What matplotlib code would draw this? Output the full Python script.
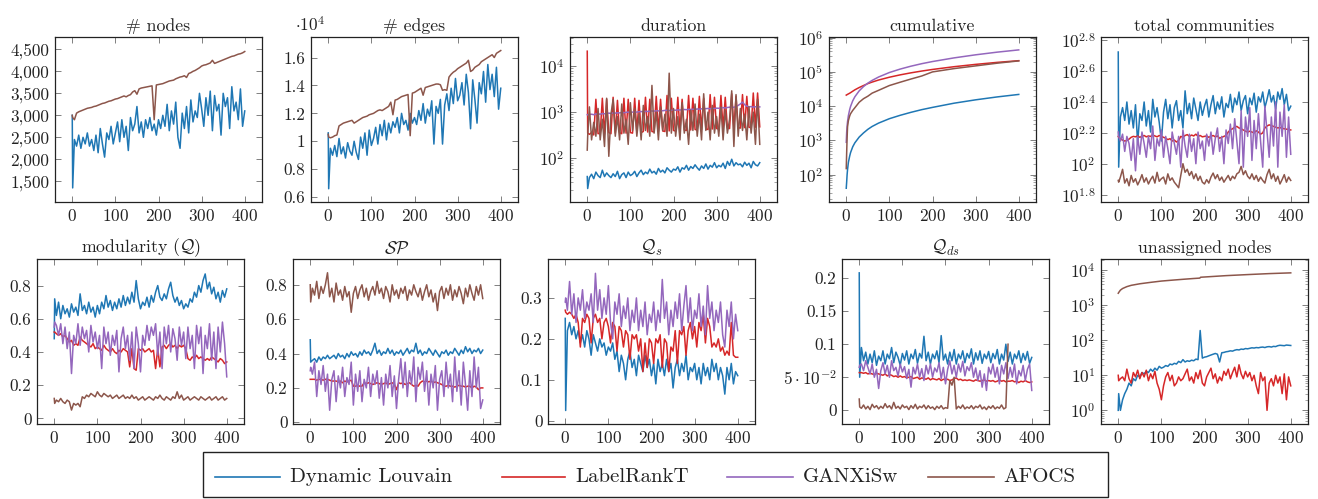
import numpy as np
import matplotlib
matplotlib.use('Agg')
import matplotlib.pyplot as plt
from matplotlib.ticker import FixedLocator, FuncFormatter, LogLocator, NullLocator, NullFormatter
from matplotlib.lines import Line2D
from matplotlib.patches import Rectangle

plt.rcParams.update({
    'font.family': 'serif', 'font.serif': ['cmr10'], 'mathtext.fontset': 'cm',
    'axes.formatter.use_mathtext': True, 'axes.unicode_minus': False,
})

# ---------------- data ----------------
X = [0, 1] + list(range(5, 401, 5))
labels = ['Dynamic Louvain', 'LabelRankT', 'GANXiSw', 'AFOCS']
colors = ['#1f77b4', '#d62728', '#9467bd', '#8c564b']

nodes_dl = [3000, 1350,
    2450, 2300, 2550, 2250, 2500, 2350, 2600, 2300, 2450, 2200,
    2550, 2150, 2700, 2350, 2050, 2600, 2450, 2750, 2350, 2600,
    2850, 2400, 2900, 2500, 2750, 2200, 2950, 2650, 2800, 3200,
    2600, 2850, 2500, 2900, 2700, 2950, 2650, 2800, 2550, 2900,
    2700, 3000, 2750, 3250, 2650, 3100, 2800, 3300, 2500, 2250,
    3050, 2700, 3200, 2600, 3350, 2850, 3100, 2950, 3500, 3150,
    2750, 3400, 3000, 3550, 2650, 3450, 3100, 3250, 2550, 3500,
    3200, 3400, 2700, 3650, 3100, 3300, 2900, 3600, 2750, 3100]
nodes_af = [3000, 2950,
    2900, 3050, 3080, 3100, 3120, 3140, 3160, 3170, 3180, 3200,
    3210, 3230, 3250, 3270, 3280, 3300, 3320, 3330, 3350, 3370,
    3380, 3400, 3420, 3440, 3420, 3450, 3470, 3530, 3560, 3480,
    3600, 3620, 3630, 3640, 3650, 3660, 3670, 2900, 3690, 3700,
    3710, 3720, 3740, 3760, 3780, 3790, 3800, 3830, 3850, 3870,
    3880, 3900, 3860, 3950, 3970, 4000, 4020, 4050, 4080, 4120,
    4140, 4150, 4170, 4190, 4250, 4180, 4200, 4220, 4240, 4260,
    4280, 4300, 4320, 4340, 4350, 4370, 4390, 4400, 4420, 4450]

edges_dl = [10600, 6600,
    9500, 9000, 9700, 8900, 10200, 9100, 9600, 8800, 9900, 9300,
    9000, 10000, 9200, 8700, 10300, 9500, 10600, 9000, 10800, 9700,
    10200, 11000, 9800, 11200, 10400, 11500, 10100, 11300, 10600, 11400,
    11000, 11700, 10600, 12000, 11200, 11500, 10800, 12000, 11300, 11700,
    11200, 12200, 11500, 12700, 11300, 12300, 11800, 12900, 9800, 12500,
    12000, 13000, 9800, 12600, 13400, 12200, 13800, 12700, 14500, 12900,
    13300, 14200, 12600, 14800, 13500, 10900, 14400, 13000, 11300, 14200,
    13400, 15000, 12800, 15500, 13700, 14800, 13200, 15300, 12300, 13800]
edges_af = [10500, 10300,
    10250, 10300, 10400, 10450, 11100, 11200, 11300, 11350, 11400, 11450,
    11500, 11300, 11400, 11500, 11600, 11700, 11750, 11800, 11900, 11950,
    12000, 12100, 12200, 12250, 12200, 12300, 12400, 12500, 12800, 11900,
    12950, 13000, 13100, 13200, 13250, 13300, 13350, 10400, 13450, 13500,
    13600, 13700, 13800, 13300, 13850, 13900, 13950, 14000, 14050, 14100,
    14100, 14050, 13650, 13700, 13650, 14600, 14800, 14950, 15050, 15200,
    15300, 15400, 15500, 15600, 15800, 15000, 15100, 15300, 15400, 15500,
    15700, 15800, 15900, 16000, 16100, 16200, 16000, 16300, 16400, 16500]

dur_dl = [40, 22,
    38, 45, 36, 50, 42, 38, 55, 40, 48, 42,
    38, 46, 40, 52, 36, 44, 48, 38, 50, 42,
    45, 52, 40, 48, 55, 44, 50, 46, 58, 48,
    52, 45, 60, 50, 55, 48, 62, 55, 50, 58,
    55, 65, 50, 62, 58, 70, 55, 66, 60, 72,
    62, 55, 68, 60, 75, 58, 70, 64, 80, 62,
    70, 65, 78, 60, 85, 70, 95, 68, 80, 72,
    75, 65, 82, 70, 78, 62, 85, 72, 68, 80]
dur_lr = [21000, 350,
    330, 360, 320, 1900, 340, 350, 2000, 330, 1900, 360,
    340, 2100, 350, 1800, 360, 340, 2000, 350, 1900, 360,
    350, 2000, 370, 1800, 360, 380, 2100, 370, 1900, 380,
    370, 2200, 380, 1900, 390, 380, 2300, 390, 2000, 400,
    390, 2100, 400, 1900, 410, 400, 2300, 410, 2000, 420,
    410, 2200, 420, 2000, 430, 420, 2400, 430, 2100, 440,
    430, 2300, 440, 2100, 450, 440, 2500, 450, 2200, 460,
    450, 2400, 460, 2200, 470, 460, 2600, 470, 2600, 480]
dur_gx = [880, 870,
    890, 900, 880, 910, 920, 900, 930, 920, 940, 950,
    940, 960, 950, 970, 960, 980, 970, 990, 1000, 990,
    1000, 1010, 1000, 1020, 1030, 1020, 1040, 1030, 1050, 1060,
    1050, 1070, 1060, 1080, 1070, 1090, 1100, 1080, 1100, 1110,
    1100, 1120, 1110, 1130, 1140, 1130, 1150, 1140, 1160, 1150,
    1170, 1160, 1180, 1170, 1190, 1200, 1180, 1210, 1200, 1220,
    1210, 1230, 1250, 1230, 1260, 1280, 1300, 1270, 1320, 1400,
    1500, 1650, 1450, 1350, 1300, 1320, 1280, 1310, 1290, 1300]
dur_af = [150, 300,
    1300, 250, 600, 300, 1200, 250, 700, 180, 2000, 110,
    900, 1900, 300, 800, 250, 1500, 350, 700, 200, 1600,
    400, 1200, 300, 900, 250, 1400, 400, 800, 300, 3800,
    350, 1000, 250, 1300, 400, 900, 300, 7000, 350, 1200,
    300, 800, 250, 1600, 350, 700, 200, 1100, 400, 1500,
    300, 900, 250, 2500, 400, 1000, 250, 1400, 350, 800,
    300, 1300, 250, 1100, 350, 700, 2900, 180, 2400, 300,
    1200, 400, 900, 250, 1300, 350, 1000, 200, 1900, 200]

cum_x = [0, 1, 2, 3, 5, 8, 10, 15, 20, 30, 40, 50, 60, 75, 100, 125, 150, 175, 200, 250, 300, 350, 400]
cum_dl = [40, 62, 100, 140, 230, 350, 440, 650, 850, 1250, 1650, 2100, 2550, 3200, 4300, 5400,
          6600, 7900, 9200, 12200, 15300, 18600, 22000]
cum_lr = [21000, 21400, 21700, 22100, 22800, 23900, 24800, 27300, 30000, 35000, 40000, 45500,
          50500, 58000, 70000, 82000, 94000, 106000, 118000, 142000, 166000, 190000, 213000]
cum_gx = [880, 1750, 2650, 3550, 5300, 8000, 9800, 14300, 18800, 28000, 37300, 47000, 56500,
          71000, 96000, 121000, 147000, 174000, 201000, 257000, 316000, 378000, 440000]
cum_af = [150, 450, 1200, 2500, 3800, 5200, 6000, 7500, 9000, 13000, 16500, 19500, 24000, 29000,
          40000, 50000, 62000, 76000, 100000, 125000, 150000, 180000, 210000]

com_dl = [525, 95,
    200, 230, 190, 250, 180, 220, 170, 240, 135, 210,
    190, 250, 175, 220, 160, 260, 200, 230, 185, 140,
    215, 260, 195, 240, 170, 230, 255, 190, 220, 170,
    295, 210, 245, 195, 265, 225, 190, 250, 205, 235,
    260, 200, 240, 275, 210, 250, 225, 270, 200, 245,
    230, 280, 215, 265, 240, 290, 220, 255, 275, 210,
    265, 240, 285, 215, 270, 250, 290, 230, 260, 300,
    250, 275, 225, 290, 260, 305, 240, 280, 220, 235]
com_lr = [150, 148,
    145, 142, 140, 141, 144, 148, 150, 149, 151, 148,
    150, 152, 149, 151, 150, 153, 151, 149, 152, 150,
    148, 146, 143, 145, 140, 142, 138, 141, 150, 148,
    152, 154, 150, 153, 151, 155, 150, 152, 149, 150,
    151, 148, 150, 152, 149, 151, 146, 148, 150, 152,
    160, 165, 168, 172, 174, 170, 168, 165, 162, 160,
    162, 160, 158, 163, 160, 155, 158, 170, 175, 178,
    176, 174, 172, 170, 171, 169, 168, 167, 166, 165]
com_gx = [160, 150,
    140, 155, 120, 150, 135, 105, 145, 90, 150, 115,
    160, 135, 110, 150, 125, 175, 105, 145, 130, 165,
    110, 150, 125, 100, 160, 135, 115, 150, 95, 165,
    130, 110, 155, 120, 145, 100, 160, 125, 140, 105,
    155, 130, 160, 115, 145, 170, 120, 150, 100, 165,
    135, 180, 125, 195, 140, 100, 220, 95, 200, 150,
    230, 105, 190, 125, 210, 140, 95, 235, 160, 110,
    200, 130, 250, 95, 215, 150, 240, 110, 200, 115]
com_af = [78, 76,
    82, 92, 75, 80, 72, 84, 76, 80, 73, 78,
    85, 76, 81, 74, 79, 83, 75, 88, 77, 80,
    82, 74, 86, 78, 81, 76, 73, 70, 84, 100,
    88, 92, 84, 89, 80, 86, 78, 83, 76, 74,
    79, 75, 82, 87, 80, 85, 78, 82, 76, 80,
    84, 78, 83, 80, 86, 88, 96, 85, 90, 83,
    80, 86, 79, 84, 77, 82, 78, 75, 85, 92,
    80, 86, 77, 83, 74, 79, 85, 76, 82, 78]

mod_dl = [0.48, 0.72,
    0.62, 0.70, 0.60, 0.68, 0.63, 0.66, 0.61, 0.69, 0.64, 0.67,
    0.62, 0.75, 0.65, 0.68, 0.63, 0.70, 0.64, 0.67, 0.61, 0.68,
    0.63, 0.70, 0.66, 0.74, 0.67, 0.71, 0.65, 0.70, 0.66, 0.72,
    0.67, 0.74, 0.68, 0.73, 0.69, 0.76, 0.70, 0.83, 0.72, 0.66,
    0.70, 0.68, 0.73, 0.67, 0.74, 0.70, 0.76, 0.80, 0.73, 0.71,
    0.75, 0.72, 0.78, 0.82, 0.74, 0.70, 0.73, 0.68, 0.71, 0.66,
    0.69, 0.67, 0.72, 0.70, 0.76, 0.73, 0.80, 0.76, 0.83, 0.87,
    0.78, 0.82, 0.75, 0.79, 0.72, 0.76, 0.70, 0.77, 0.73, 0.78]
mod_lr = [0.52, 0.52,
    0.51, 0.50, 0.51, 0.49, 0.50, 0.48, 0.46, 0.47, 0.44, 0.45,
    0.44, 0.49, 0.47, 0.46, 0.45, 0.44, 0.43, 0.45, 0.42, 0.43,
    0.42, 0.41, 0.44, 0.42, 0.41, 0.40, 0.42, 0.40, 0.39, 0.41,
    0.40, 0.42, 0.41, 0.40, 0.31, 0.42, 0.30, 0.29, 0.42, 0.41,
    0.42, 0.40, 0.41, 0.42, 0.40, 0.41, 0.30, 0.42, 0.31, 0.43,
    0.44, 0.42, 0.44, 0.45, 0.43, 0.44, 0.42, 0.44, 0.43, 0.44,
    0.42, 0.36, 0.35, 0.37, 0.36, 0.38, 0.36, 0.37, 0.36, 0.35,
    0.36, 0.35, 0.37, 0.36, 0.35, 0.34, 0.36, 0.35, 0.33, 0.34]
mod_gx = [0.55, 0.58,
    0.56, 0.50, 0.57, 0.45, 0.55, 0.42, 0.52, 0.27, 0.50, 0.45,
    0.57, 0.44, 0.55, 0.48, 0.53, 0.40, 0.56, 0.46, 0.52, 0.42,
    0.50, 0.30, 0.55, 0.45, 0.52, 0.38, 0.50, 0.44, 0.53, 0.28,
    0.48, 0.55, 0.42, 0.50, 0.35, 0.52, 0.30, 0.55, 0.45, 0.28,
    0.50, 0.44, 0.56, 0.47, 0.55, 0.50, 0.57, 0.38, 0.52, 0.30,
    0.55, 0.45, 0.56, 0.40, 0.54, 0.48, 0.35, 0.55, 0.44, 0.52,
    0.36, 0.55, 0.42, 0.50, 0.30, 0.56, 0.45, 0.55, 0.27, 0.50,
    0.42, 0.57, 0.35, 0.52, 0.30, 0.55, 0.40, 0.58, 0.45, 0.25]
mod_af = [0.12, 0.09,
    0.11, 0.10, 0.12, 0.10, 0.09, 0.11, 0.10, 0.05, 0.09, 0.08,
    0.09, 0.07, 0.13, 0.12, 0.14, 0.13, 0.15, 0.14, 0.13, 0.16,
    0.14, 0.13, 0.15, 0.14, 0.13, 0.14, 0.12, 0.13, 0.14, 0.12,
    0.13, 0.14, 0.12, 0.13, 0.12, 0.14, 0.12, 0.13, 0.11, 0.12,
    0.13, 0.11, 0.12, 0.13, 0.12, 0.11, 0.13, 0.12, 0.14, 0.12,
    0.11, 0.13, 0.12, 0.11, 0.13, 0.12, 0.16, 0.12, 0.14, 0.11,
    0.12, 0.13, 0.11, 0.12, 0.13, 0.12, 0.11, 0.13, 0.12, 0.11,
    0.12, 0.13, 0.11, 0.12, 0.13, 0.11, 0.12, 0.13, 0.11, 0.12]

sp_dl = [0.48, 0.35,
    0.36, 0.37, 0.35, 0.38, 0.36, 0.38, 0.37, 0.39, 0.37, 0.38,
    0.39, 0.37, 0.40, 0.38, 0.39, 0.37, 0.40, 0.38, 0.41, 0.39,
    0.40, 0.38, 0.41, 0.39, 0.42, 0.40, 0.41, 0.39, 0.42, 0.46,
    0.40, 0.42, 0.39, 0.41, 0.40, 0.43, 0.40, 0.42, 0.39, 0.41,
    0.40, 0.42, 0.39, 0.41, 0.43, 0.40, 0.42, 0.41, 0.46, 0.40,
    0.42, 0.39, 0.41, 0.40, 0.43, 0.41, 0.39, 0.42, 0.40, 0.38,
    0.41, 0.40, 0.42, 0.39, 0.41, 0.40, 0.43, 0.41, 0.39, 0.42,
    0.40, 0.44, 0.41, 0.43, 0.40, 0.42, 0.41, 0.43, 0.40, 0.42]
sp_lr = [0.25, 0.25,
    0.25, 0.25, 0.245, 0.25, 0.25, 0.245, 0.25, 0.25, 0.245, 0.24,
    0.24, 0.24, 0.235, 0.24, 0.23, 0.24, 0.235, 0.24, 0.245, 0.21,
    0.21, 0.215, 0.21, 0.21, 0.23, 0.225, 0.23, 0.225, 0.22, 0.225,
    0.23, 0.225, 0.22, 0.225, 0.23, 0.22, 0.225, 0.23, 0.22, 0.19,
    0.23, 0.225, 0.23, 0.22, 0.225, 0.23, 0.22, 0.21, 0.215, 0.21,
    0.23, 0.24, 0.235, 0.24, 0.235, 0.24, 0.23, 0.235, 0.23, 0.225,
    0.22, 0.21, 0.21, 0.215, 0.21, 0.21, 0.205, 0.21, 0.215, 0.21,
    0.21, 0.205, 0.21, 0.21, 0.20, 0.21, 0.205, 0.19, 0.20, 0.20]
sp_gx = [0.30, 0.32,
    0.28, 0.35, 0.15, 0.30, 0.22, 0.33, 0.18, 0.28, 0.07, 0.25,
    0.30, 0.12, 0.27, 0.20, 0.32, 0.15, 0.26, 0.22, 0.35, 0.10,
    0.28, 0.18, 0.30, 0.12, 0.25, 0.20, 0.32, 0.15, 0.28, 0.22,
    0.30, 0.14, 0.26, 0.10, 0.28, 0.20, 0.33, 0.15, 0.27, 0.08,
    0.25, 0.37, 0.20, 0.35, 0.15, 0.30, 0.22, 0.38, 0.12, 0.32,
    0.25, 0.35, 0.18, 0.30, 0.10, 0.28, 0.20, 0.33, 0.07, 0.25,
    0.30, 0.15, 0.35, 0.20, 0.28, 0.12, 0.38, 0.18, 0.30, 0.10,
    0.35, 0.22, 0.07, 0.30, 0.15, 0.38, 0.20, 0.32, 0.08, 0.13]
sp_af = [0.80, 0.70,
    0.78, 0.74, 0.82, 0.72, 0.79, 0.75, 0.80, 0.87, 0.73, 0.78,
    0.70, 0.81, 0.74, 0.77, 0.71, 0.79, 0.73, 0.76, 0.64, 0.75,
    0.79, 0.72, 0.77, 0.80, 0.73, 0.78, 0.71, 0.76, 0.79, 0.74,
    0.82, 0.75, 0.78, 0.72, 0.79, 0.76, 0.70, 0.80, 0.74, 0.77,
    0.72, 0.78, 0.75, 0.79, 0.71, 0.77, 0.74, 0.80, 0.76, 0.73,
    0.78, 0.71, 0.76, 0.80, 0.73, 0.77, 0.70, 0.75, 0.65, 0.76,
    0.79, 0.72, 0.78, 0.74, 0.80, 0.71, 0.77, 0.73, 0.79, 0.75,
    0.69, 0.78, 0.73, 0.80, 0.75, 0.71, 0.79, 0.74, 0.80, 0.72]

qs_dl = [0.25, 0.025,
    0.22, 0.24, 0.21, 0.23, 0.20, 0.22, 0.19, 0.21, 0.18, 0.22,
    0.20, 0.16, 0.21, 0.19, 0.17, 0.20, 0.18, 0.19, 0.16, 0.18,
    0.17, 0.19, 0.15, 0.17, 0.12, 0.16, 0.14, 0.10, 0.15, 0.17,
    0.13, 0.15, 0.11, 0.16, 0.14, 0.12, 0.16, 0.13, 0.15, 0.11,
    0.14, 0.09, 0.15, 0.12, 0.14, 0.11, 0.15, 0.12, 0.14, 0.08,
    0.13, 0.15, 0.11, 0.14, 0.12, 0.16, 0.10, 0.13, 0.12, 0.14,
    0.10, 0.13, 0.09, 0.14, 0.11, 0.13, 0.10, 0.15, 0.12, 0.14,
    0.10, 0.13, 0.11, 0.065, 0.13, 0.10, 0.14, 0.09, 0.12, 0.11]
qs_lr = [0.27, 0.265,
    0.26, 0.265, 0.26, 0.25, 0.26, 0.24, 0.18, 0.25, 0.24, 0.26,
    0.25, 0.19, 0.25, 0.26, 0.24, 0.25, 0.20, 0.24, 0.25, 0.23,
    0.19, 0.24, 0.23, 0.17, 0.23, 0.22, 0.18, 0.22, 0.21, 0.15,
    0.21, 0.20, 0.21, 0.17, 0.20, 0.12, 0.19, 0.13, 0.20, 0.19,
    0.14, 0.20, 0.19, 0.21, 0.13, 0.20, 0.19, 0.12, 0.18, 0.17,
    0.22, 0.14, 0.22, 0.21, 0.23, 0.16, 0.22, 0.24, 0.20, 0.23,
    0.18, 0.24, 0.22, 0.26, 0.19, 0.25, 0.23, 0.18, 0.19, 0.18,
    0.20, 0.17, 0.18, 0.16, 0.17, 0.16, 0.24, 0.16, 0.155, 0.155]
qs_gx = [0.29, 0.30,
    0.27, 0.34, 0.26, 0.31, 0.24, 0.30, 0.27, 0.32, 0.25, 0.29,
    0.27, 0.31, 0.24, 0.36, 0.27, 0.32, 0.25, 0.30, 0.26, 0.33,
    0.24, 0.20, 0.29, 0.26, 0.31, 0.23, 0.28, 0.25, 0.30, 0.22,
    0.27, 0.24, 0.30, 0.22, 0.27, 0.23, 0.29, 0.21, 0.26, 0.24,
    0.29, 0.22, 0.27, 0.24, 0.345, 0.25, 0.29, 0.21, 0.27, 0.23,
    0.29, 0.25, 0.31, 0.22, 0.28, 0.33, 0.24, 0.30, 0.22, 0.27,
    0.25, 0.31, 0.23, 0.28, 0.21, 0.33, 0.25, 0.29, 0.22, 0.27,
    0.24, 0.29, 0.21, 0.18, 0.27, 0.23, 0.29, 0.20, 0.26, 0.22]

qds_dl = [0.208, 0.05,
    0.095, 0.075, 0.088, 0.070, 0.085, 0.072, 0.090, 0.068, 0.082, 0.075,
    0.090, 0.070, 0.085, 0.078, 0.095, 0.072, 0.088, 0.080, 0.068, 0.086,
    0.076, 0.090, 0.070, 0.085, 0.078, 0.092, 0.071, 0.086, 0.079, 0.112,
    0.075, 0.088, 0.070, 0.085, 0.078, 0.090, 0.072, 0.113, 0.076, 0.085,
    0.070, 0.088, 0.075, 0.092, 0.070, 0.085, 0.078, 0.090, 0.072, 0.086,
    0.079, 0.093, 0.070, 0.087, 0.076, 0.090, 0.071, 0.085, 0.078, 0.089,
    0.072, 0.086, 0.078, 0.092, 0.070, 0.085, 0.076, 0.100, 0.074, 0.088,
    0.070, 0.085, 0.078, 0.090, 0.072, 0.086, 0.076, 0.089, 0.071, 0.080]
qds_lr = [0.057, 0.057,
    0.057, 0.056, 0.057, 0.055, 0.056, 0.055, 0.054, 0.056, 0.055, 0.054,
    0.053, 0.055, 0.052, 0.054, 0.053, 0.051, 0.052, 0.050, 0.052, 0.050,
    0.051, 0.049, 0.050, 0.051, 0.048, 0.049, 0.050, 0.047, 0.049, 0.048,
    0.047, 0.049, 0.046, 0.048, 0.047, 0.046, 0.048, 0.045, 0.047, 0.046,
    0.047, 0.045, 0.046, 0.048, 0.049, 0.046, 0.047, 0.045, 0.046, 0.045,
    0.046, 0.045, 0.044, 0.046, 0.045, 0.044, 0.045, 0.046, 0.044, 0.045,
    0.044, 0.045, 0.043, 0.044, 0.046, 0.044, 0.045, 0.043, 0.044, 0.044,
    0.045, 0.043, 0.044, 0.042, 0.044, 0.043, 0.045, 0.043, 0.042, 0.043]
qds_gx = [0.065, 0.068,
    0.070, 0.060, 0.075, 0.065, 0.055, 0.070, 0.050, 0.062, 0.033, 0.060,
    0.072, 0.055, 0.068, 0.050, 0.075, 0.060, 0.065, 0.052, 0.070, 0.058,
    0.066, 0.048, 0.062, 0.035, 0.065, 0.055, 0.070, 0.050, 0.063, 0.045,
    0.068, 0.055, 0.070, 0.050, 0.064, 0.058, 0.072, 0.048, 0.065, 0.040,
    0.062, 0.075, 0.055, 0.068, 0.050, 0.070, 0.058, 0.074, 0.052, 0.066,
    0.060, 0.072, 0.050, 0.064, 0.045, 0.060, 0.035, 0.055, 0.030, 0.065,
    0.055, 0.070, 0.050, 0.065, 0.040, 0.068, 0.055, 0.072, 0.048, 0.065,
    0.050, 0.070, 0.040, 0.060, 0.052, 0.068, 0.045, 0.062, 0.070, 0.030]
qds_af = [0.017, 0.005,
    0.003, 0.008, 0.002, 0.006, 0.001, 0.009, 0.004, 0.007, 0.002, 0.006,
    0.003, 0.010, 0.004, 0.007, 0.002, 0.012, 0.003, 0.006, 0.002, 0.008,
    0.004, 0.006, 0.001, 0.007, 0.003, 0.009, 0.002, 0.006, 0.004, 0.008,
    0.002, 0.007, 0.003, 0.005, 0.001, 0.006, 0.003, 0.007, 0.002, 0.004,
    0.003, 0.045, 0.038, 0.050, 0.002, 0.006, 0.003, 0.008, 0.002, 0.005,
    0.003, 0.007, 0.002, 0.006, 0.004, 0.008, 0.002, 0.005, 0.001, 0.006,
    0.003, 0.007, 0.002, 0.005, 0.003, 0.008, 0.002, 0.004, 0.100]

una_af_x = [0, 2, 5, 10, 20, 30, 50, 75, 100, 125, 150, 175, 189, 191, 200, 250, 300, 350, 400]
una_af = [2200, 2400, 2700, 3000, 3400, 3700, 4100, 4500, 4900, 5200, 5500, 5800, 5950, 6300,
          6400, 7000, 7500, 8000, 8400]
una_dl = [1, 3,
    1, 2, 3, 4, 6, 5, 8, 7, 10, 9,
    12, 11, 13, 12, 15, 13, 16, 14, 18, 16,
    17, 19, 18, 21, 20, 22, 21, 25, 23, 28,
    24, 26, 25, 27, 26, 29, 28, 190, 31, 33,
    34, 36, 38, 40, 42, 40, 24, 44, 45, 47,
    48, 50, 49, 52, 54, 53, 56, 55, 58, 57,
    59, 61, 60, 62, 61, 63, 64, 62, 65, 66,
    64, 67, 66, 70, 72, 71, 70, 73, 72, 71]
una_lr = [10, 7,
    8, 9, 7, 15, 8, 6, 12, 9, 14, 8,
    12, 9, 14, 7, 11, 8, 13, 6, 4, 2,
    5, 9, 12, 7, 10, 5, 6, 9, 7, 8,
    11, 15, 7, 9, 6, 12, 8, 14, 6, 5,
    9, 12, 16, 8, 11, 6, 9, 7, 13, 10,
    15, 8, 12, 17, 9, 20, 11, 8, 13, 9,
    12, 7, 10, 5, 3, 12, 7, 9, 1, 6,
    8, 5, 10, 6, 9, 3, 11, 2, 9, 5]

# ---------------- layout ----------------
W, H = 1318, 499
fig = plt.figure(figsize=(W / 100, H / 100), dpi=100)

def add_ax(l, t, w=207, h=165):
    return fig.add_axes([l / W, (H - t - h) / H, w / W, h / H])

LW = 1.1
FS = 12.3
TXT = '#222222'

def style(ax, title):
    ax.set_xlim(-40, 440)
    ax.xaxis.set_major_locator(FixedLocator([0, 100, 200, 300, 400]))
    ax.xaxis.set_minor_locator(NullLocator())
    ax.tick_params(which='both', direction='in', top=True, right=True, color='0.5',
                   labelsize=FS, labelcolor=TXT)
    ax.tick_params(which='major', length=4, width=0.7, pad=4)
    ax.tick_params(which='minor', length=2, width=0.5)
    for s in ax.spines.values():
        s.set_linewidth(0.9)
        s.set_color(TXT)
    ax.set_title(title, fontsize=FS + 0.5, pad=4, color=TXT)

def plot_series(ax, xs, ys, cidx):
    ax.plot(xs, ys, color=colors[cidx], lw=LW)

# 1: nodes
ax = add_ax(55, 37)
plot_series(ax, X, nodes_dl, 0)
plot_series(ax, X, nodes_af, 3)
ax.set_ylim(1030, 4780)
ax.yaxis.set_major_locator(FixedLocator([1500, 2000, 2500, 3000, 3500, 4000, 4500]))
ax.yaxis.set_major_formatter(FuncFormatter(lambda v, p: f"{int(round(v)):,}"))
style(ax, '# nodes')

# 2: edges
ax = add_ax(311, 37)
plot_series(ax, X, np.array(edges_dl) / 1e4, 0)
plot_series(ax, X, np.array(edges_af) / 1e4, 3)
ax.set_ylim(0.565, 1.747)
ax.yaxis.set_major_locator(FixedLocator([0.6, 0.8, 1.0, 1.2, 1.4, 1.6]))
ax.yaxis.set_major_formatter(FuncFormatter(lambda v, p: f"{v:g}"))
style(ax, '# edges')
ax.text(-0.075, 1.02, r'$\cdot 10^4$', transform=ax.transAxes, fontsize=FS,
        ha='left', va='bottom', color=TXT)

def logstyle(ax, lo, hi, majors, minor=True):
    ax.set_yscale('log')
    ax.set_ylim(10 ** lo, 10 ** hi)
    ax.yaxis.set_major_locator(FixedLocator([10.0 ** m for m in majors]))
    ax.yaxis.set_major_formatter(FuncFormatter(lambda v, p: r'$10^{%d}$' % round(np.log10(v))))
    if minor:
        ax.yaxis.set_minor_locator(LogLocator(base=10, subs=np.arange(2, 10), numticks=20))
    else:
        ax.yaxis.set_minor_locator(NullLocator())
    ax.yaxis.set_minor_formatter(NullFormatter())

# 3: duration
ax = add_ax(570, 37)
plot_series(ax, X, dur_dl, 0)
plot_series(ax, X, dur_lr, 1)
plot_series(ax, X, dur_gx, 2)
plot_series(ax, X, dur_af, 3)
logstyle(ax, 1.05, 4.63, [2, 3, 4])
style(ax, 'duration')

# 4: cumulative
ax = add_ax(829, 37)
plot_series(ax, cum_x, cum_dl, 0)
plot_series(ax, cum_x, cum_lr, 1)
plot_series(ax, cum_x, cum_gx, 2)
plot_series(ax, cum_x, cum_af, 3)
logstyle(ax, 1.2, 6.02, [2, 3, 4, 5, 6])
style(ax, 'cumulative')

# 5: total communities
ax = add_ax(1101, 37)
plot_series(ax, X, com_dl, 0)
plot_series(ax, X, com_lr, 1)
plot_series(ax, X, com_gx, 2)
plot_series(ax, X, com_af, 3)
ax.set_yscale('log')
ax.set_ylim(10 ** 1.753, 10 ** 2.817)
comm_exp = [1.8, 2.0, 2.2, 2.4, 2.6, 2.8]
ax.yaxis.set_major_locator(FixedLocator([10 ** e for e in comm_exp]))
ax.yaxis.set_major_formatter(FuncFormatter(lambda v, p: r'$10^{%g}$' % round(np.log10(v), 1)))
ax.yaxis.set_minor_locator(NullLocator())
ax.yaxis.set_minor_formatter(NullFormatter())
style(ax, 'total communities')

# 6: modularity
ax = add_ax(37, 259)
plot_series(ax, X, mod_dl, 0)
plot_series(ax, X, mod_lr, 1)
plot_series(ax, X, mod_gx, 2)
plot_series(ax, X, mod_af, 3)
ax.set_ylim(-0.034, 0.96)
ax.yaxis.set_major_locator(FixedLocator([0, 0.2, 0.4, 0.6, 0.8]))
ax.yaxis.set_major_formatter(FuncFormatter(lambda v, p: f"{v:g}"))
style(ax, r'modularity ($\mathcal{Q}$)')

# 7: SP
ax = add_ax(293, 259)
plot_series(ax, X, sp_dl, 0)
plot_series(ax, X, sp_lr, 1)
plot_series(ax, X, sp_gx, 2)
plot_series(ax, X, sp_af, 3)
ax.set_ylim(-0.01, 0.95)
ax.yaxis.set_major_locator(FixedLocator([0, 0.2, 0.4, 0.6, 0.8]))
ax.yaxis.set_major_formatter(FuncFormatter(lambda v, p: f"{v:g}"))
style(ax, r'$\mathcal{SP}$')

# 8: Qs
ax = add_ax(548, 259)
plot_series(ax, X, qs_dl, 0)
plot_series(ax, X, qs_lr, 1)
plot_series(ax, X, qs_gx, 2)
ax.set_ylim(-0.008, 0.395)
ax.yaxis.set_major_locator(FixedLocator([0, 0.1, 0.2, 0.3]))
ax.yaxis.set_major_formatter(FuncFormatter(lambda v, p: f"{v:g}"))
style(ax, r'$\mathcal{Q}_s$')

# 9: Qds
ax = add_ax(842, 259)
plot_series(ax, X, qds_dl, 0)
plot_series(ax, X, qds_lr, 1)
plot_series(ax, X, qds_gx, 2)
plot_series(ax, X[:len(qds_af)], qds_af, 3)
ax.set_ylim(-0.0208, 0.229)
ax.yaxis.set_major_locator(FixedLocator([0, 0.05, 0.1, 0.15, 0.2]))
qds_lab = {0: '0', 0.05: r'$5\cdot10^{-2}$', 0.1: '0.1', 0.15: '0.15', 0.2: '0.2'}
ax.yaxis.set_major_formatter(FuncFormatter(lambda v, p: qds_lab.get(round(v, 2), f"{v:g}")))
style(ax, r'$\mathcal{Q}_{ds}$')

# 10: unassigned nodes
ax = add_ax(1101, 259)
plot_series(ax, X, una_dl, 0)
plot_series(ax, X, una_lr, 1)
plot_series(ax, una_af_x, una_af, 3)
logstyle(ax, -0.39, 4.32, [0, 1, 2, 3, 4])
style(ax, 'unassigned nodes')

# ---------------- legend ----------------
fig.patches.append(Rectangle((203 / W, (H - 497) / H), 905 / W, 45 / H, transform=fig.transFigure,
                             fill=False, edgecolor=TXT, linewidth=1.0))
leg_line = [(215, 280), (502, 565), (727, 793), (928, 994)]
leg_text = [290, 575, 803, 1003]
ly = (H - 477) / H
for i in range(4):
    x0, x1 = leg_line[i]
    fig.lines.append(Line2D([x0 / W, x1 / W], [ly, ly], transform=fig.transFigure,
                            color=colors[i], lw=1.2))
    fig.text(leg_text[i] / W, ly, labels[i], fontsize=15, ha='left', va='center',
             color=TXT)

fig.savefig('out.png', dpi=100)
